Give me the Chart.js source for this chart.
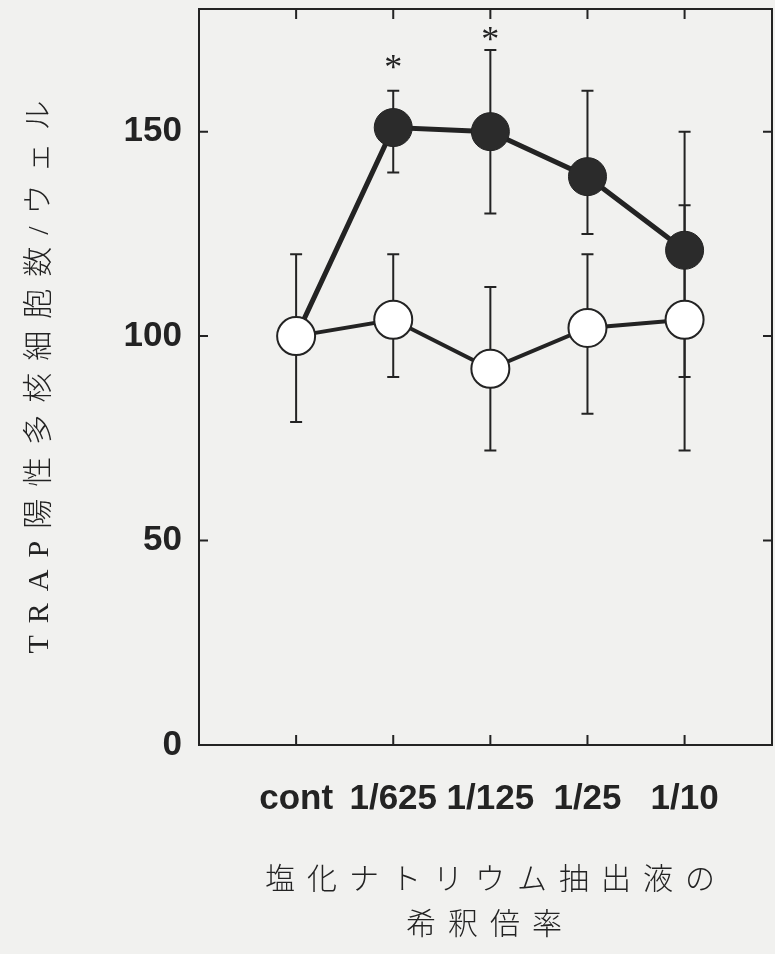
<!DOCTYPE html>
<html>
<head>
<meta charset="utf-8">
<script src="https://cdn.jsdelivr.net/npm/chart.js@4/dist/chart.umd.min.js"></script>
<style>
body { margin: 0; background: #f1f1ef; }
canvas { display: block; }
</style>
</head>
<body>
<canvas id="trapChart" width="775" height="954"></canvas>
<script>
// dilution steps on the x axis
const categories = ["cont", "1/625", "1/125", "1/25", "1/10"];
const yTicks = [0, 50, 100, 150];

// open circles
const openMean = [100, 104, 92, 102, 104];
const openHigh = [120, 120, 112, 120, 132];
const openLow = [79, 90, 72, 81, 72];

// filled circles (line starts from the control point)
const filledMean = [100, 151, 150, 139, 121];
const filledHigh = [null, 160, 170, 160, 150];
const filledLow = [null, 140, 130, 125, 90];

// significance marks
const stars = [null, 167, 174, null, null];

const yTitle = "TRAP陽性多核細胞数/ウェル";
const xTitle = ["塩化ナトリウム抽出液の", "希釈倍率"];

const ink = "#232323";
const paper = "#f1f1ef";

function points(values) {
    return values.map((v, i) => ({ x: i + 1, y: v }));
}

function drawBars(chart, high, low) {
    const ctx = chart.ctx;
    const xs = chart.scales.x;
    const ys = chart.scales.y;

    high.forEach((h, i) => {
        if (h === null) return;
        const px = xs.getPixelForValue(i + 1);
        const top = ys.getPixelForValue(h);
        const bottom = ys.getPixelForValue(low[i]);
        ctx.beginPath();
        ctx.moveTo(px, top);
        ctx.lineTo(px, bottom);
        ctx.moveTo(px - 6, top);
        ctx.lineTo(px + 6, top);
        ctx.moveTo(px - 6, bottom);
        ctx.lineTo(px + 6, bottom);
        ctx.stroke();
    });
}

function spacedText(ctx, text, cx, cy, spacing) {
    ctx.letterSpacing = spacing + "px";
    const w = ctx.measureText(text).width - spacing;
    ctx.textAlign = "left";
    ctx.textBaseline = "middle";
    ctx.fillText(text, cx - w / 2, cy);
}

const extras = {
    id: "extras",

    beforeDraw(chart) {
        const ctx = chart.ctx;
        ctx.save();
        ctx.fillStyle = paper;
        ctx.fillRect(0, 0, chart.width, chart.height);
        ctx.restore();
    },

    beforeDatasetsDraw(chart) {
        const ctx = chart.ctx;
        ctx.save();
        ctx.strokeStyle = ink;
        ctx.lineWidth = 2;
        drawBars(chart, openHigh, openLow);
        drawBars(chart, filledHigh, filledLow);
        ctx.restore();
    },

    afterDraw(chart) {
        const ctx = chart.ctx;
        const area = chart.chartArea;
        const xs = chart.scales.x;
        const ys = chart.scales.y;

        ctx.save();
        ctx.strokeStyle = ink;
        ctx.lineWidth = 2;
        ctx.strokeRect(area.left, area.top, area.right - area.left, area.bottom - area.top);

        // inward ticks on all four sides
        ctx.beginPath();
        categories.forEach((c, i) => {
            const px = xs.getPixelForValue(i + 1);
            ctx.moveTo(px, area.bottom);
            ctx.lineTo(px, area.bottom - 10);
            ctx.moveTo(px, area.top);
            ctx.lineTo(px, area.top + 10);
        });
        yTicks.forEach(v => {
            if (v === 0) return;
            const py = ys.getPixelForValue(v);
            ctx.moveTo(area.left, py);
            ctx.lineTo(area.left + 9, py);
            ctx.moveTo(area.right, py);
            ctx.lineTo(area.right - 9, py);
        });
        ctx.stroke();

        // asterisks
        ctx.fillStyle = ink;
        ctx.font = '36px "Liberation Serif"';
        ctx.textAlign = "center";
        ctx.textBaseline = "alphabetic";
        stars.forEach((s, i) => {
            if (s === null) return;
            const m = ctx.measureText("*");
            const shift = (m.actualBoundingBoxAscent - m.actualBoundingBoxDescent) / 2;
            ctx.fillText("*", xs.getPixelForValue(i + 1), ys.getPixelForValue(s) + shift);
        });

        // axis titles
        ctx.font = '300 30px "Liberation Serif", "Noto Sans CJK JP"';
        ctx.save();
        ctx.translate(40, 377);
        ctx.rotate(-Math.PI / 2);
        spacedText(ctx, yTitle, 0, 0, 12);
        ctx.restore();

        ctx.font = '300 30px "Noto Sans CJK JP"';
        spacedText(ctx, xTitle[0], 490, 878, 12);
        spacedText(ctx, xTitle[1], 484, 923, 12);
        ctx.restore();
    }
};

const ctx = document.getElementById("trapChart").getContext("2d");

new Chart(ctx, {
    type: "line",

    data: {
        datasets: [
            {
                label: "open",
                data: points(openMean),
                borderColor: ink,
                borderWidth: 4,
                pointRadius: 19,
                pointBorderWidth: 2,
                pointBorderColor: ink,
                pointBackgroundColor: "#ffffff",
                order: 0
            },
            {
                label: "filled",
                data: points(filledMean),
                borderColor: ink,
                borderWidth: 5,
                pointRadius: [0, 19, 19, 19, 19],
                pointBorderWidth: 1,
                pointBorderColor: ink,
                pointBackgroundColor: "#2b2b2b",
                order: 1
            }
        ]
    },

    options: {
        responsive: false,
        animation: false,
        events: [],
        devicePixelRatio: 1,
        layout: {
            autoPadding: false,
            padding: { top: 9, right: 3, left: 0, bottom: 0 }
        },
        plugins: {
            legend: { display: false },
            title: { display: false },
            tooltip: { enabled: false }
        },
        scales: {
            x: {
                type: "linear",
                min: 0,
                max: 5.9,
                grid: { display: false, drawTicks: false },
                border: { display: false },
                afterBuildTicks: s => {
                    s.ticks = categories.map((c, i) => ({ value: i + 1 }));
                },
                afterFit: s => {
                    s.height = 209;
                    s.paddingLeft = 0;
                    s.paddingRight = 0;
                    s.paddingTop = 0;
                    s.paddingBottom = 0;
                },
                ticks: {
                    autoSkip: false,
                    maxRotation: 0,
                    padding: 33,
                    color: ink,
                    font: { family: '"Liberation Sans"', size: 35, weight: "bold" },
                    callback: v => categories[v - 1]
                }
            },
            y: {
                min: 0,
                max: 180,
                grid: { display: false, drawTicks: false },
                border: { display: false },
                afterBuildTicks: s => {
                    s.ticks = yTicks.map(v => ({ value: v }));
                },
                afterFit: s => {
                    s.width = 199;
                    s.paddingLeft = 0;
                    s.paddingRight = 0;
                    s.paddingTop = 0;
                    s.paddingBottom = 0;
                },
                ticks: {
                    padding: 17,
                    color: ink,
                    font: { family: '"Liberation Sans"', size: 35, weight: "bold" }
                }
            }
        }
    },

    plugins: [extras]
});
</script>
</body>
</html>
